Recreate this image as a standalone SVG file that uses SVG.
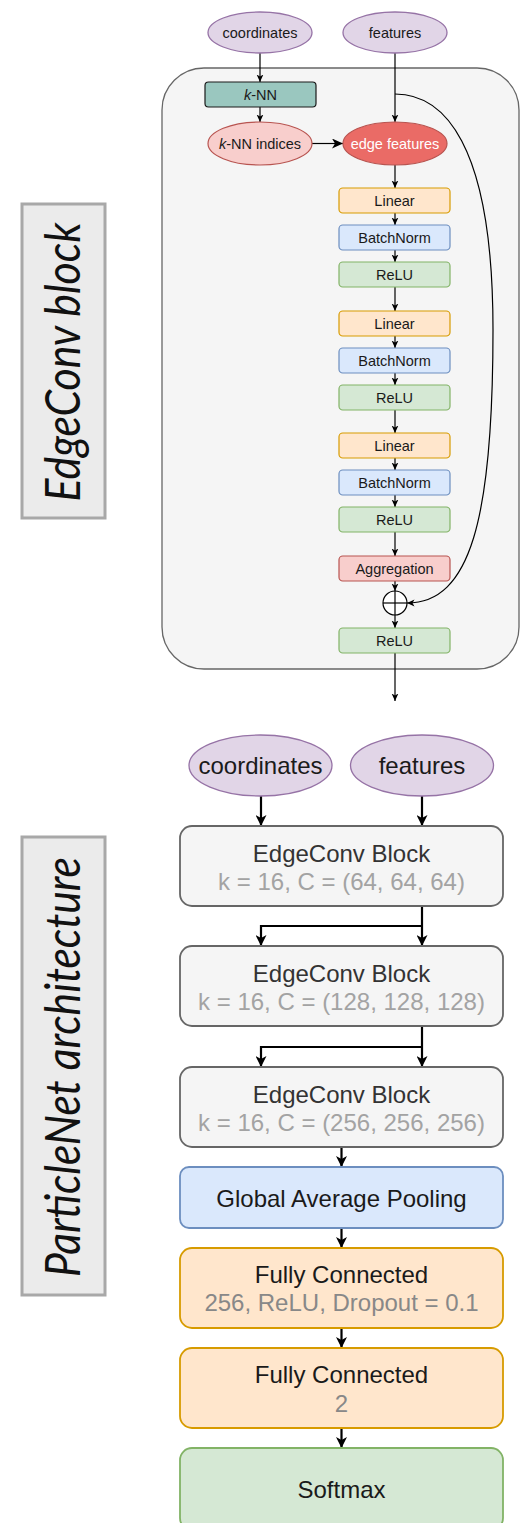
<svg xmlns="http://www.w3.org/2000/svg" width="528" height="1523" viewBox="0 0 528 1523">
  <style>
    .t { font-family: "Liberation Sans", Arial, Helvetica, sans-serif; text-anchor: middle; }
    .s { font-size: 14.5px; fill: #1a1a1a; }
    .l { font-size: 24px; fill: #1a1a1a; }
    .dim { font-size: 24px; fill: #a3a3a3; }
    .dim2 { font-size: 24px; fill: #888888; }
    .side { font-family: Lato, "Open Sans", sans-serif; font-style: italic; font-size: 48px; fill: #111; text-anchor: middle; }
    .lin { fill: #ffe6cc; stroke: #d79b00; stroke-width: 1.2; }
    .bn { fill: #dae8fc; stroke: #6c8ebf; stroke-width: 1.2; }
    .relu { fill: #d5e8d4; stroke: #82b366; stroke-width: 1.2; }
    .agg { fill: #f8cecc; stroke: #b85450; stroke-width: 1.2; }
    .io { fill: #e1d5e7; stroke: #9673a6; stroke-width: 1.3; }
    .blk { fill: #f5f5f5; stroke: #666666; stroke-width: 1.8; }
    .c1 { fill: none; stroke: #000; stroke-width: 1.2; }
    .c2 { fill: none; stroke: #000; stroke-width: 2.2; }
  </style>
  <defs>
    <marker id="ah" viewBox="0 0 8 8" markerWidth="8" markerHeight="8" refX="7.5" refY="4" orient="auto" markerUnits="userSpaceOnUse">
      <path d="M0,0.6 L7.5,4 L0,7.4 L2,4 z" fill="#000"/>
    </marker>
    <marker id="ahm" viewBox="0 0 11 10" markerWidth="11" markerHeight="10" refX="11" refY="5" orient="auto" markerUnits="userSpaceOnUse">
      <path d="M0,0 L11,5 L0,10 L3,5 z" fill="#000"/>
    </marker>
    <marker id="ahb" viewBox="0 0 11 11" markerWidth="11" markerHeight="11" refX="11" refY="5.5" orient="auto" markerUnits="userSpaceOnUse">
      <path d="M0,0 L11,5.5 L0,11 L3,5.5 z" fill="#000"/>
    </marker>
  </defs>

  <!-- side captions -->
  <g id="caption-edgeconv">
    <rect x="22" y="204" width="83" height="314" fill="#ebebeb" stroke="#a8a8a8" stroke-width="3"/>
    <text class="side" transform="translate(80,362) rotate(-90)" textLength="279" lengthAdjust="spacingAndGlyphs">EdgeConv block</text>
  </g>
  <g id="caption-particlenet">
    <rect x="22" y="837" width="83" height="458" fill="#ebebeb" stroke="#a8a8a8" stroke-width="3"/>
    <text class="side" transform="translate(80,1067) rotate(-90)" textLength="420" lengthAdjust="spacingAndGlyphs">ParticleNet architecture</text>
  </g>

  <!-- EdgeConv block detail -->
  <g id="edgeconv-frame">
    <rect x="162" y="68" width="357" height="601" rx="42" ry="42" fill="#f5f5f5" stroke="#666666" stroke-width="1.3"/>
  </g>

  <g id="connectors-top">
    <line class="c1" x1="260" y1="53" x2="260" y2="82" marker-end="url(#ah)"/>
    <line class="c1" x1="260" y1="107" x2="260" y2="122" marker-end="url(#ah)"/>
    <line class="c1" x1="312" y1="143.5" x2="343" y2="143.5" stroke-width="1.4" marker-end="url(#ahm)"/>
    <line class="c1" x1="395" y1="53" x2="395" y2="122" marker-end="url(#ah)"/>
    <line class="c1" x1="395" y1="165" x2="395" y2="188" marker-end="url(#ah)"/>
    <line class="c1" x1="395" y1="213" x2="395" y2="225" marker-end="url(#ah)"/>
    <line class="c1" x1="395" y1="250" x2="395" y2="262" marker-end="url(#ah)"/>
    <line class="c1" x1="395" y1="287" x2="395" y2="311" marker-end="url(#ah)"/>
    <line class="c1" x1="395" y1="336" x2="395" y2="348" marker-end="url(#ah)"/>
    <line class="c1" x1="395" y1="373" x2="395" y2="385" marker-end="url(#ah)"/>
    <line class="c1" x1="395" y1="410" x2="395" y2="433" marker-end="url(#ah)"/>
    <line class="c1" x1="395" y1="458" x2="395" y2="470" marker-end="url(#ah)"/>
    <line class="c1" x1="395" y1="495" x2="395" y2="507" marker-end="url(#ah)"/>
    <line class="c1" x1="395" y1="532" x2="395" y2="556" marker-end="url(#ah)"/>
    <line class="c1" x1="395" y1="581" x2="395" y2="591" marker-end="url(#ah)"/>
    <line class="c1" x1="395" y1="615" x2="395" y2="628" marker-end="url(#ah)"/>
    <line class="c1" x1="395" y1="653" x2="395" y2="701" marker-end="url(#ah)"/>
    <!-- residual shortcut -->
    <path class="c1" d="M395,94 C442,94 493,140 493,330 C493,520 470,603 407,603" marker-end="url(#ah)"/>
  </g>

  <g id="in-coordinates">
    <ellipse class="io" cx="260" cy="32.5" rx="52" ry="20.5"/>
    <text class="t s" x="260" y="37.5">coordinates</text>
  </g>
  <g id="in-features">
    <ellipse class="io" cx="395" cy="32.5" rx="52" ry="20.5"/>
    <text class="t s" x="395" y="37.5">features</text>
  </g>
  <g id="knn">
    <rect x="205" y="82" width="111" height="25" rx="3.5" fill="#9ac7bf" stroke="#1a1a1a" stroke-width="1.2"/>
    <text class="t s" x="260.5" y="99.5"><tspan font-style="italic">k</tspan>-NN</text>
  </g>
  <g id="knn-indices">
    <ellipse cx="260" cy="143.5" rx="52" ry="21.5" fill="#f8cecc" stroke="#b85450" stroke-width="1.2"/>
    <text class="t s" x="260" y="148.5"><tspan font-style="italic">k</tspan>-NN indices</text>
  </g>
  <g id="edge-features">
    <ellipse cx="395" cy="143.5" rx="52" ry="21.5" fill="#ea6b66" stroke="#b85450" stroke-width="1.2"/>
    <text class="t s" x="395" y="148.5" style="fill:#ffffff">edge features</text>
  </g>

  <g id="linear-1"><rect class="lin" x="339" y="188" width="111" height="25" rx="3.75"/><text class="t s" x="394.5" y="205.5">Linear</text></g>
  <g id="batchnorm-1"><rect class="bn" x="339" y="225" width="111" height="25" rx="3.75"/><text class="t s" x="394.5" y="242.5">BatchNorm</text></g>
  <g id="relu-1"><rect class="relu" x="339" y="262" width="111" height="25" rx="3.75"/><text class="t s" x="394.5" y="279.5">ReLU</text></g>

  <g id="linear-2"><rect class="lin" x="339" y="311" width="111" height="25" rx="3.75"/><text class="t s" x="394.5" y="328.5">Linear</text></g>
  <g id="batchnorm-2"><rect class="bn" x="339" y="348" width="111" height="25" rx="3.75"/><text class="t s" x="394.5" y="365.5">BatchNorm</text></g>
  <g id="relu-2"><rect class="relu" x="339" y="385" width="111" height="25" rx="3.75"/><text class="t s" x="394.5" y="402.5">ReLU</text></g>

  <g id="linear-3"><rect class="lin" x="339" y="433" width="111" height="25" rx="3.75"/><text class="t s" x="394.5" y="450.5">Linear</text></g>
  <g id="batchnorm-3"><rect class="bn" x="339" y="470" width="111" height="25" rx="3.75"/><text class="t s" x="394.5" y="487.5">BatchNorm</text></g>
  <g id="relu-3"><rect class="relu" x="339" y="507" width="111" height="25" rx="3.75"/><text class="t s" x="394.5" y="524.5">ReLU</text></g>

  <g id="aggregation"><rect class="agg" x="339" y="556" width="111" height="25" rx="3.75"/><text class="t s" x="394.5" y="573.5">Aggregation</text></g>
  <g id="sum">
    <circle cx="395" cy="603" r="12" fill="#ffffff" stroke="#000" stroke-width="1.2"/>
    <line x1="383" y1="603" x2="407" y2="603" stroke="#000" stroke-width="1.2"/>
    <line x1="395" y1="591" x2="395" y2="615" stroke="#000" stroke-width="1.2"/>
  </g>
  <g id="relu-out"><rect class="relu" x="339" y="628" width="111" height="25" rx="3.75"/><text class="t s" x="394.5" y="645.5">ReLU</text></g>

  <!-- ParticleNet architecture -->
  <g id="connectors-bottom">
    <line class="c2" x1="261" y1="796" x2="261" y2="826" marker-end="url(#ahb)"/>
    <line class="c2" x1="422" y1="796" x2="422" y2="826" marker-end="url(#ahb)"/>
    <line class="c2" x1="422" y1="906" x2="422" y2="946" marker-end="url(#ahb)"/>
    <polyline class="c2" points="422,926 261,926 261,946" marker-end="url(#ahb)"/>
    <line class="c2" x1="422" y1="1026" x2="422" y2="1067" marker-end="url(#ahb)"/>
    <polyline class="c2" points="422,1047 261,1047 261,1067" marker-end="url(#ahb)"/>
    <line class="c2" x1="341.5" y1="1147" x2="341.5" y2="1167" marker-end="url(#ahb)"/>
    <line class="c2" x1="341.5" y1="1228" x2="341.5" y2="1248" marker-end="url(#ahb)"/>
    <line class="c2" x1="341.5" y1="1328" x2="341.5" y2="1348" marker-end="url(#ahb)"/>
    <line class="c2" x1="341.5" y1="1428" x2="341.5" y2="1448" marker-end="url(#ahb)"/>
  </g>

  <g id="pn-coordinates">
    <ellipse class="io" cx="260.5" cy="765.5" rx="71.5" ry="30.5" stroke-width="1.8"/>
    <text class="t l" x="260.5" y="774">coordinates</text>
  </g>
  <g id="pn-features">
    <ellipse class="io" cx="422" cy="765.5" rx="71.5" ry="30.5" stroke-width="1.8"/>
    <text class="t l" x="422" y="774">features</text>
  </g>

  <g id="edgeconv-1">
    <rect class="blk" x="180" y="826" width="323" height="80" rx="12"/>
    <text class="t l" x="341.5" y="862" style="fill:#333333">EdgeConv Block</text>
    <text class="t dim" x="341.5" y="890">k = 16, C = (64, 64, 64)</text>
  </g>
  <g id="edgeconv-2">
    <rect class="blk" x="180" y="946" width="323" height="80" rx="12"/>
    <text class="t l" x="341.5" y="982" style="fill:#333333">EdgeConv Block</text>
    <text class="t dim" x="341.5" y="1010">k = 16, C = (128, 128, 128)</text>
  </g>
  <g id="edgeconv-3">
    <rect class="blk" x="180" y="1067" width="323" height="80" rx="12"/>
    <text class="t l" x="341.5" y="1103" style="fill:#333333">EdgeConv Block</text>
    <text class="t dim" x="341.5" y="1131">k = 16, C = (256, 256, 256)</text>
  </g>
  <g id="global-pool">
    <rect x="180" y="1167" width="323" height="61" rx="9" fill="#dae8fc" stroke="#6c8ebf" stroke-width="1.8"/>
    <text class="t l" x="341.5" y="1207">Global Average Pooling</text>
  </g>
  <g id="fc-1">
    <rect x="180" y="1248" width="323" height="80" rx="12" fill="#ffe6cc" stroke="#d79b00" stroke-width="1.8"/>
    <text class="t l" x="341.5" y="1283">Fully Connected</text>
    <text class="t dim2" x="341.5" y="1311">256, ReLU, Dropout = 0.1</text>
  </g>
  <g id="fc-2">
    <rect x="180" y="1348" width="323" height="80" rx="12" fill="#ffe6cc" stroke="#d79b00" stroke-width="1.8"/>
    <text class="t l" x="341.5" y="1383">Fully Connected</text>
    <text class="t dim2" x="341.5" y="1411.5">2</text>
  </g>
  <g id="softmax">
    <rect x="180" y="1448" width="323" height="82" rx="12" fill="#d5e8d4" stroke="#82b366" stroke-width="1.8"/>
    <text class="t l" x="341.5" y="1498">Softmax</text>
  </g>
</svg>
